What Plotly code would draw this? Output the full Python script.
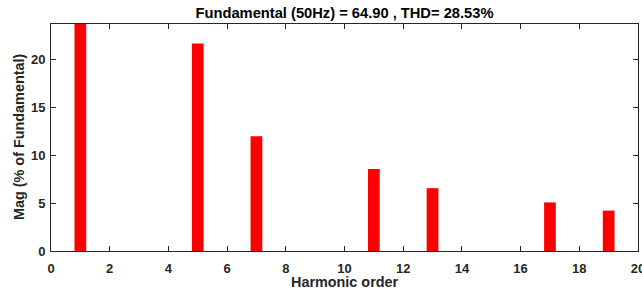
import plotly.graph_objects as go

harmonic_order = [1, 5, 7, 11, 13, 17, 19]
mag_percent = [100.0, 21.67, 11.98, 8.55, 6.56, 5.07, 4.22]
x_ticks = [0, 2, 4, 6, 8, 10, 12, 14, 16, 18, 20]
y_ticks = [0, 5, 10, 15, 20]
title_text = "Fundamental (50Hz) = 64.90 , THD= 28.53%"
x_title = "Harmonic order"
y_title = "Mag (% of Fundamental)"

FONT = "Liberation Sans, Arial, Helvetica, sans-serif"
INK = "#262626"

fig = go.Figure(go.Bar(
    x=harmonic_order, y=mag_percent, width=0.4,
    marker=dict(color="#ff0000", line=dict(width=0)),
    cliponaxis=True,
))

axis_common = dict(
    showline=True, linecolor=INK, linewidth=1, mirror="ticks",
    ticks="inside", ticklen=5, tickcolor=INK, tickwidth=1,
    showgrid=False, zeroline=False, automargin=False,
    ticklabeloverflow="allow",
    tickfont=dict(family=FONT, size=13, color=INK, weight="bold"),
)

fig.update_layout(
    width=642, height=290,
    margin=dict(l=51, r=4, t=23.5, b=39),
    paper_bgcolor="white", plot_bgcolor="white",
    showlegend=False,
    title=dict(text=title_text, x=0.5, xref="paper", xanchor="center",
               y=(290 - 12.5) / 290, yref="container", yanchor="middle",
               font=dict(family=FONT, size=14.7, color="black", weight="bold")),
    xaxis=dict(range=[0, 20], tickvals=x_ticks, ticklabelstandoff=5, **axis_common),
    yaxis=dict(range=[0, 23.7], tickvals=y_ticks, ticklabelstandoff=2, **axis_common),
    annotations=[
        dict(text=x_title, xref="paper", yref="paper", x=0.5, y=-(282 - 251) / 227.5,
             xanchor="center", yanchor="middle", showarrow=False,
             font=dict(family=FONT, size=14.4, color=INK, weight="bold")),
        dict(text=y_title, xref="paper", yref="paper", x=-(51 - 18.5) / 587, y=0.5,
             xanchor="center", yanchor="middle", showarrow=False, textangle=-90,
             font=dict(family=FONT, size=14.4, color=INK, weight="bold")),
    ],
)

fig.write_html(
    "out.html",
    config={"displayModeBar": False, "staticPlot": True},
    post_script="document.body.style.margin='0';document.body.style.overflow='hidden';",
)
